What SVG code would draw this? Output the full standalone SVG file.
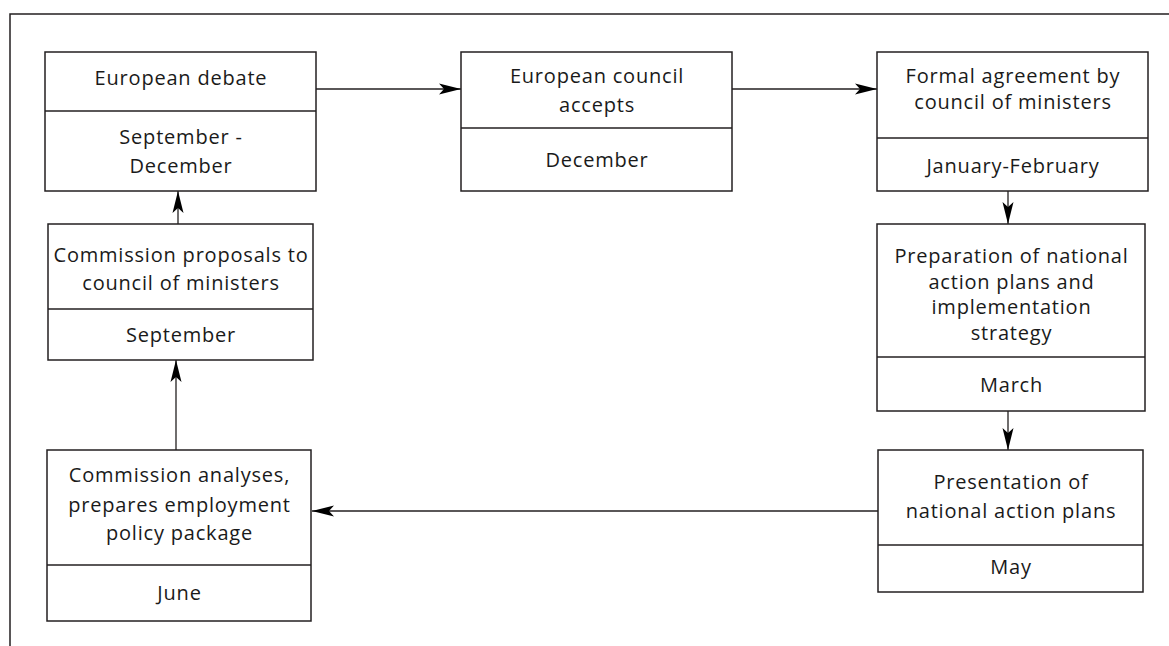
<svg xmlns="http://www.w3.org/2000/svg" width="1169" height="646" viewBox="0 0 1169 646">
<defs>
<style>
.box{fill:#fff;stroke:#231f20;stroke-width:1.5}
.div{stroke:#231f20;stroke-width:1.5}
.t{font-family:"Open Sans","Liberation Sans",sans-serif;font-size:20px;letter-spacing:0.8px;fill:#1a1a1a;text-anchor:middle}
.c{stroke:#231f20;stroke-width:1.3;fill:none;marker-end:url(#ah)}
.frame{stroke:#231f20;stroke-width:1.5;fill:none}
</style>
<marker id="ah" markerUnits="userSpaceOnUse" markerWidth="24" markerHeight="12" refX="22" refY="6" orient="auto">
<path d="M0,0.5 L22,6 L0,11.5 L5,6 Z" fill="#000"/>
</marker>
</defs>
<path class="frame" d="M10,646 L10,14 L1169,14"/>
<g id="connectors">
<line class="c" x1="316" y1="89" x2="461" y2="89"/>
<line class="c" x1="732" y1="89" x2="877" y2="89"/>
<line class="c" x1="1008" y1="191" x2="1008" y2="224"/>
<line class="c" x1="1008" y1="411" x2="1008" y2="450"/>
<line class="c" x1="878" y1="511" x2="312" y2="511"/>
<line class="c" x1="176" y1="450" x2="176" y2="360"/>
<line class="c" x1="178" y1="224" x2="178" y2="191"/>
</g>
<g id="n1">
<rect class="box" x="45" y="52" width="271" height="139"/>
<line class="div" x1="45" y1="111" x2="316" y2="111"/>
<text class="t" x="181" y="85">European debate</text>
<text class="t" x="181" y="144">September -</text>
<text class="t" x="181" y="173">December</text>
</g>
<g id="n2">
<rect class="box" x="461" y="52" width="271" height="139"/>
<line class="div" x1="461" y1="128" x2="732" y2="128"/>
<text class="t" x="597" y="83">European council</text>
<text class="t" x="597" y="112">accepts</text>
<text class="t" x="597" y="167">December</text>
</g>
<g id="n3">
<rect class="box" x="877" y="52" width="271" height="139"/>
<line class="div" x1="877" y1="138" x2="1148" y2="138"/>
<text class="t" x="1013" y="83">Formal agreement by</text>
<text class="t" x="1013" y="109">council of ministers</text>
<text class="t" x="1013" y="173">January-February</text>
</g>
<g id="n4">
<rect class="box" x="877" y="224" width="268" height="187"/>
<line class="div" x1="877" y1="357" x2="1145" y2="357"/>
<text class="t" x="1011.5" y="263">Preparation of national</text>
<text class="t" x="1011.5" y="288.5">action plans and</text>
<text class="t" x="1011.5" y="314">implementation</text>
<text class="t" x="1011.5" y="339.5">strategy</text>
<text class="t" x="1011.5" y="392">March</text>
</g>
<g id="n5">
<rect class="box" x="878" y="450" width="265" height="142"/>
<line class="div" x1="878" y1="545" x2="1143" y2="545"/>
<text class="t" x="1011" y="489">Presentation of</text>
<text class="t" x="1011" y="518">national action plans</text>
<text class="t" x="1011" y="574">May</text>
</g>
<g id="n6">
<rect class="box" x="47" y="450" width="264" height="171"/>
<line class="div" x1="47" y1="565" x2="311" y2="565"/>
<text class="t" x="179.5" y="482">Commission analyses,</text>
<text class="t" x="179.5" y="512">prepares employment</text>
<text class="t" x="179.5" y="540">policy package</text>
<text class="t" x="179.5" y="600">June</text>
</g>
<g id="n7">
<rect class="box" x="48" y="224" width="265" height="136"/>
<line class="div" x1="48" y1="309" x2="313" y2="309"/>
<text class="t" x="181" y="262">Commission proposals to</text>
<text class="t" x="181" y="290">council of ministers</text>
<text class="t" x="181" y="342">September</text>
</g>
</svg>
